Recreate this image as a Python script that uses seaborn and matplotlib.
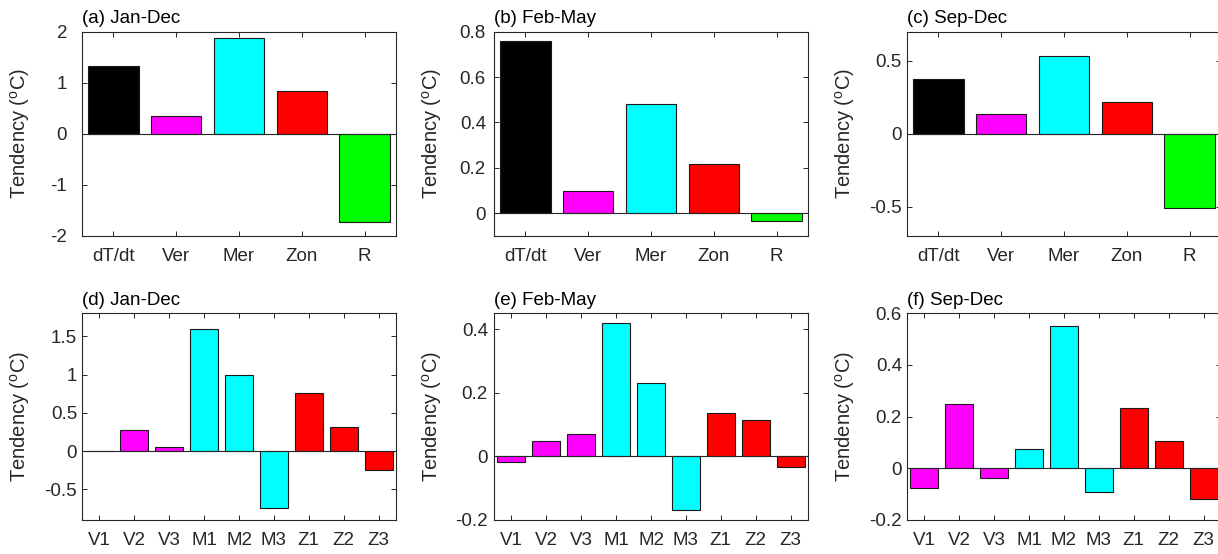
import numpy as np
import matplotlib
matplotlib.use("Agg")
import matplotlib.pyplot as plt
import seaborn as sns

# ---------------- data ----------------
top_cats = ['dT/dt', 'Ver', 'Mer', 'Zon', 'R']
top_colors = ['#000000', '#FF00FF', '#00FFFF', '#FF0000', '#00FF00']
jan_dec_top = [1.33, 0.34, 1.88, 0.84, -1.74]
feb_may_top = [0.76, 0.097, 0.48, 0.215, -0.037]
sep_dec_top = [0.374, 0.137, 0.53, 0.216, -0.51]

bot_cats = ['V1', 'V2', 'V3', 'M1', 'M2', 'M3', 'Z1', 'Z2', 'Z3']
bot_colors = ['#FF00FF'] * 3 + ['#00FFFF'] * 3 + ['#FF0000'] * 3
jan_dec_bot = [0.004, 0.28, 0.057, 1.60, 0.99, -0.74, 0.76, 0.31, -0.25]
feb_may_bot = [-0.019, 0.049, 0.070, 0.418, 0.232, -0.168, 0.136, 0.113, -0.032]
sep_dec_bot = [-0.075, 0.249, -0.036, 0.073, 0.552, -0.092, 0.232, 0.104, -0.118]

titles = ['(a) Jan-Dec', '(b) Feb-May', '(c) Sep-Dec',
          '(d) Jan-Dec', '(e) Feb-May', '(f) Sep-Dec']
ylims = [(-2, 2), (-0.1, 0.8), (-0.7, 0.7),
         (-0.9, 1.8), (-0.2, 0.45), (-0.2, 0.6)]
yticks = [[-2, -1, 0, 1, 2], [0, 0.2, 0.4, 0.6, 0.8], [-0.5, 0, 0.5],
          [-0.5, 0, 0.5, 1, 1.5], [-0.2, 0, 0.2, 0.4], [-0.2, 0, 0.2, 0.4, 0.6]]
ylabel = 'Tendency ($^o$C)'

# ---------------- style ----------------
sns.set_style('ticks')
plt.rcParams['font.family'] = ['Liberation Sans', 'DejaVu Sans']
plt.rcParams['mathtext.default'] = 'regular'
plt.rcParams['axes.unicode_minus'] = False

AX = '#262626'
W, H = 1218, 554
fig = plt.figure(figsize=(W / 100, H / 100), dpi=100)

lefts = [82, 494, 907]
rows = [(31.7, 235.7), (313.3, 520)]
width = 314
ytick_pad_px = [15, 8, 5, 5, 6, 5]

panels = [(top_cats, top_colors, jan_dec_top), (top_cats, top_colors, feb_may_top),
          (top_cats, top_colors, sep_dec_top), (bot_cats, bot_colors, jan_dec_bot),
          (bot_cats, bot_colors, feb_may_bot), (bot_cats, bot_colors, sep_dec_bot)]

for i, (cats, cols, vals) in enumerate(panels):
    r, c = divmod(i, 3)
    top, bot = rows[r]
    ax = fig.add_axes([lefts[c] / W, 1 - bot / H, width / W, (bot - top) / H])
    sns.barplot(x=cats, y=vals, hue=cats, palette=cols, legend=False, ax=ax,
                saturation=1, width=0.8, edgecolor='#1a1a1a', linewidth=0.8,
                zorder=2)
    ax.axhline(0, color=AX, lw=0.8, zorder=3)
    ax.set_xlim(-0.5, len(cats) - 0.5)
    ax.set_ylim(*ylims[i])
    ax.set_yticks(yticks[i])
    ax.set_yticklabels(['%g' % t for t in yticks[i]])
    for s in ax.spines.values():
        s.set_visible(True)
        s.set_color(AX)
        s.set_linewidth(0.8)
    ax.tick_params(axis='both', direction='in', length=3.5, width=0.7,
                   color=AX, labelcolor=AX, labelsize=13.5,
                   top=True, right=True)
    ax.tick_params(axis='y', pad=ytick_pad_px[i] * 0.72)
    ax.tick_params(axis='x', pad=8.5)
    ax.set_xlabel('')
    ax.set_ylabel(ylabel, fontsize=14.5, color=AX)
    ax.yaxis.set_label_coords(-50 / width, 0.5)
    ax.set_title(titles[i], loc='left', fontsize=13.5, color='black', pad=6)

fig.savefig('out.png', dpi=100)
